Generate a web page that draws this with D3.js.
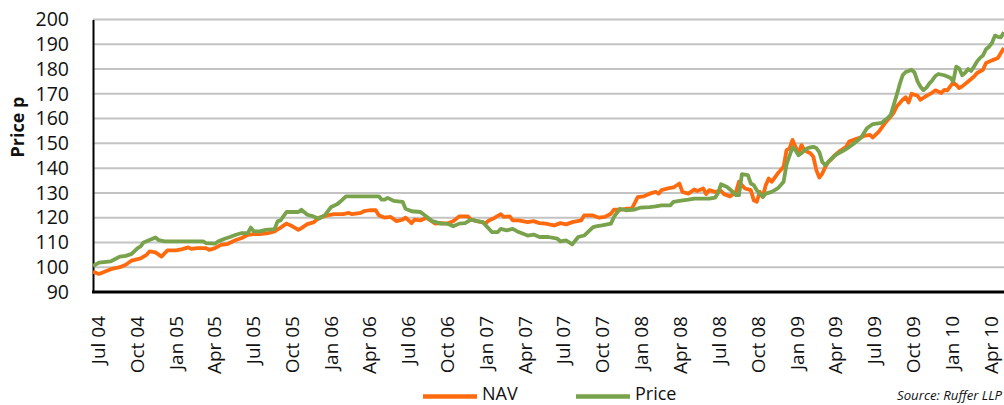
<!DOCTYPE html>
<html>
<head>
<meta charset="utf-8">
<script src="https://cdn.jsdelivr.net/npm/d3@7"></script>
<style>
html,body{margin:0;padding:0;background:#fff;}
svg{display:block;}
text{font-family:"Open Sans","Noto Sans",sans-serif;fill:#111;}
</style>
</head>
<body>
<svg id="chart" width="1004" height="405"></svg>
<script>
// ---- data (weekly observations; week index counted from the first week) ----
const startDate = "2004-06-21";
const yTicks = [90,100,110,120,130,140,150,160,170,180,190,200];
const seriesNames = ["NAV","Price"];

const navWeeks = [0,2,6,9,11,13,16,18,19,21,23,25,28,30,32,33,35,38,39,41,43,45,48,50,52,54,56,59,61,63,65,67,69,70,72,74,76,79,81,84,86,87,90,91,93,95,96,98,100,102,104,105,107,108,110,112,113,115,117,119,121,123,126,127,129,132,133,135,137,138,140,141,143,146,148,150,152,155,157,159,161,164,165,168,170,172,174,175,177,179,181,183,185,187,189,190,191,193,195,197,198,200,202,203,205,206,207,209,211,212,214,216,217,219,221,222,223,224,225,226,227,228,230,231,232,233,234,235,236,237,238,239,240,241,242,243,244,245,246,247,248,249,251,253,254,256,258,259,261,262,264,266,268,269,270,272,273,274,275,277,278,280,282,283,285,286,287,289,290,291,292,294,296,297,299,300,302,304,305,306];
const navValues = [98.2,97.3,99.2,100,101,102.7,103.6,105,106.4,106,104.3,106.8,106.8,107.3,108,107.4,107.7,107.7,107,107.7,109,109.3,111,111.8,113.1,113.4,113.4,113.8,114.5,116,117.6,116.5,115.1,115.8,117.4,118.1,120,121,121.4,121.4,121.9,121.4,121.9,122.6,123,123,121,120,120.3,118.6,119.2,120,117.8,119.2,118.9,120,119.2,117.6,117.8,117.6,118.6,120.5,120.5,119.2,118.6,117.8,118.9,120,121.4,120.3,120.5,118.9,118.9,118.2,118.6,117.8,117.6,116.9,117.8,117.3,118.2,118.9,120.9,120.9,120,120.3,121.6,123.2,123.2,123.6,123.6,128.3,128.6,129.7,130.4,129.7,131.1,131.8,132.2,133.8,130.4,129.7,131.4,130.8,131.8,129.5,131.1,130.4,130.8,129.5,128.6,130.4,134.5,131.8,131.1,127,126.4,130.4,128.4,133.1,135.8,134.5,137.8,139.2,140.5,147.3,148,151.4,148.6,145.9,149.3,147.3,146.6,146,144.6,139.2,136.2,137.8,140.5,142.5,143.5,145,147,148.6,150.7,151.6,152.4,153,153.4,152.4,154.7,158.1,160.8,162.4,164.9,167.6,168.6,166.5,170,169.2,167.6,169.2,170.5,171.4,170.3,171.6,171.4,174.6,173.6,172.3,173,175,177,178.4,179.7,182.4,183.5,184.5,186.5,188.5];

const priceWeeks = [0,2,6,7,9,11,13,15,16,17,19,21,22,24,28,32,37,38,41,42,44,46,48,50,52,53,54,56,58,61,62,63,65,66,69,70,72,74,76,78,80,82,83,85,88,92,96,97,98,99,101,104,105,107,110,112,114,117,119,121,123,125,127,129,131,133,134,136,137,139,141,143,146,148,150,153,156,157,159,161,163,165,168,169,171,174,175,177,179,182,184,187,189,191,194,195,197,200,202,204,207,209,210,211,213,215,216,217,218,220,221,222,223,225,226,228,230,231,232,233,234,235,236,237,238,239,240,241,242,243,244,245,246,247,248,250,252,254,256,258,260,262,265,267,268,269,270,271,272,273,274,275,276,277,278,279,280,281,282,283,284,286,288,289,290,291,292,293,294,295,296,297,298,299,300,301,302,303,304,305,306];
const priceValues = [100.5,101.9,102.4,103,104.3,104.6,105.4,107.7,108.4,110,111,112,111,110.4,110.4,110.4,110.4,109.7,109.5,110.4,111.4,112.2,113.1,113.8,113.8,116,114.5,114.5,115.1,115.4,118.5,118.9,122.3,122.3,122.3,123.2,121.2,120.5,119.6,121.2,124.3,125.4,126.4,128.6,128.6,128.6,128.6,127.3,127.3,128,126.8,126.4,123.6,122.6,122.3,120.5,118.6,117.6,117.6,116.5,117.6,117.8,119.2,118.6,118.2,115.5,114.2,114.2,115.5,114.9,115.5,114.2,112.8,113.2,112.2,112.2,111.5,110.4,110.8,109.2,112.2,112.8,116.2,116.5,116.9,117.6,120.3,123.6,123,123.3,124.1,124.3,124.6,125,125,126.4,126.8,127.3,127.7,127.7,127.7,128.1,130,133.5,132.4,130.4,129.1,129.1,137.6,137.2,133.8,133.1,131.1,128.4,129.7,130.4,131.8,133.1,134.5,141.5,145,148.4,147.2,145.2,146,147.2,148,148.4,148.6,148.1,146.5,142.5,141.2,142.5,143.8,145.7,147,148.5,150.3,152.3,156.1,157.8,158.3,160.3,161.5,165.5,169.5,173.8,177.5,178.8,179.2,179.7,178.6,175,172.8,171.5,172.5,174.2,175.5,177.2,178,177.5,176.5,175,181,180.2,177.5,178.5,180,179.2,181,183.1,184.5,185.5,188,189,190.5,193.5,193,192.8,194.9];

// ---- helpers ----
const start = new Date(startDate + "T00:00:00Z");
const weekDate = w => new Date(start.getTime() + w * 7 * 86400000);
const navData = navWeeks.map((w,i)=>({date:weekDate(w), v:navValues[i]}));
const priceData = priceWeeks.map((w,i)=>({date:weekDate(w), v:priceValues[i]}));

const plotL = 93, plotR = 1004, plotT = 19.5, plotB = 292;

const svg = d3.select("#chart");

const x = d3.scaleUtc()
  .domain([start, new Date(Date.UTC(2010,5,1))])
  .range([plotL, plotL + 2171 * 0.42524]);
const y = d3.scaleLinear().domain([90,200]).range([plotB, plotT]);

// gridlines
svg.append("g").selectAll("line")
  .data(yTicks.filter(t => t > 90))
  .join("line")
  .attr("x1", plotL).attr("x2", plotR)
  .attr("y1", d => y(d)).attr("y2", d => y(d))
  .attr("stroke", "#c3c3c3").attr("stroke-width", 2);

// y axis
const yAxis = d3.axisLeft(y).tickValues(yTicks).tickSize(0).tickPadding(24);
const gy = svg.append("g").attr("transform", `translate(${plotL},0)`).call(yAxis);
gy.select(".domain").attr("stroke", "#000").attr("stroke-width", 2);
gy.selectAll("text").attr("font-size", 19.5).attr("fill", "#111")
  .style("font-family", '"Open Sans","Noto Sans",sans-serif');

// lines
svg.append("clipPath").attr("id","clip").append("rect")
  .attr("x", plotL).attr("y", 0).attr("width", plotR - plotL).attr("height", plotB);
const line = d3.line().x(d => x(d.date)).y(d => y(d.v));
const plot = svg.append("g").attr("clip-path","url(#clip)");
plot.append("path").datum(navData).attr("d", line)
  .attr("fill","none").attr("stroke","#ff6a0e").attr("stroke-width",3.8)
  .attr("stroke-linejoin","round");
plot.append("path").datum(priceData).attr("d", line)
  .attr("fill","none").attr("stroke","#78a24b").attr("stroke-width",3.8)
  .attr("stroke-linejoin","round");

// x axis
const quarterTicks = d3.utcMonth.range(new Date(Date.UTC(2004,6,1)), new Date(Date.UTC(2010,4,1)), 3);
const xAxis = d3.axisBottom(x).tickValues(quarterTicks).tickSize(0).tickFormat(d3.utcFormat("%b %y"));
const gx = svg.append("g").attr("transform", `translate(0,${plotB})`).call(xAxis);
gx.select(".domain").attr("d", `M${plotL-1},0H${plotR}`).attr("stroke","#000").attr("stroke-width",3);
gx.selectAll("text")
  .attr("font-size", 19).attr("fill", "#111")
  .style("font-family", '"Open Sans","Noto Sans",sans-serif')
  .attr("text-anchor", "end")
  .attr("transform", "rotate(-90)")
  .attr("x", -24).attr("y", 0).attr("dy", "0.36em");

// y title
svg.append("text")
  .attr("transform", "translate(24,127) rotate(-90)")
  .attr("text-anchor", "middle")
  .attr("font-size", 18).attr("font-weight", "bold")
  .text("Price p");

// legend
const legendColors = ["#ff6a0e","#78a24b"];
const legendX = [423, 576];
const lg = svg.append("g");
seriesNames.forEach((name,i) => {
  lg.append("line").attr("x1", legendX[i]).attr("x2", legendX[i] + 54)
    .attr("y1", 396.5).attr("y2", 396.5)
    .attr("stroke", legendColors[i]).attr("stroke-width", 4.5);
  lg.append("text").attr("x", legendX[i] + 59).attr("y", 400)
    .attr("font-size", 18).text(name);
});

// source
svg.append("text").attr("x", 1002).attr("y", 399.5)
  .attr("text-anchor","end").attr("font-size", 13).attr("font-style","italic")
  .attr("textLength", 105).attr("lengthAdjust","spacingAndGlyphs")
  .text("Source: Ruffer LLP");
</script>
</body>
</html>
